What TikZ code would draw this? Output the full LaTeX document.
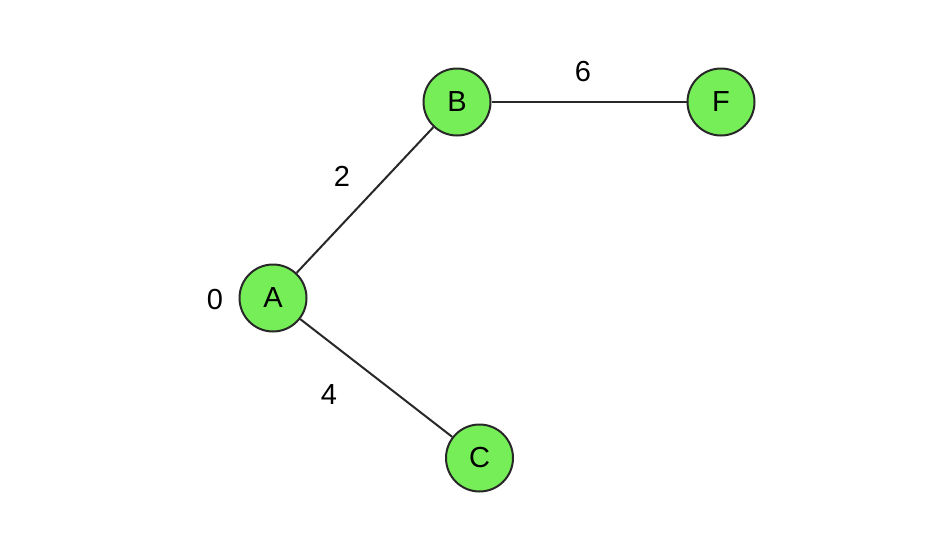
\documentclass[tikz,border=0pt]{standalone}
\usepackage{fontspec}
\setmainfont{Liberation Sans}
\definecolor{nodegreen}{RGB}{118,238,88}
\definecolor{edgegray}{RGB}{40,40,40}
\begin{document}
\begin{tikzpicture}[x=1pt,y=-1pt,
  vert/.style={circle,draw=edgegray,line width=2pt,fill=nodegreen,minimum size=67pt,inner sep=0pt,font=\fontsize{29}{30}\selectfont},
  edge/.style={draw=edgegray,line width=2pt},
  lbl/.style={font=\fontsize{29}{30}\selectfont,inner sep=0pt}]
\useasboundingbox (0,0) rectangle (930,558);
\node[vert] (A) at (273,298) {A};
\node[vert] (B) at (457,102) {B};
\node[vert] (F) at (721,102) {F};
\node[vert] (C) at (479.5,458) {C};
\draw[edge] (A) -- (B);
\draw[edge] (B) -- (F);
\draw[edge] (A) -- (C);
\node[lbl] (l0) at (215,300) {0};
\node[lbl] (l2) at (342,176) {2};
\node[lbl] (l4) at (329,395) {4};
\node[lbl] (l6) at (583,72) {6};
\end{tikzpicture}
\end{document}
